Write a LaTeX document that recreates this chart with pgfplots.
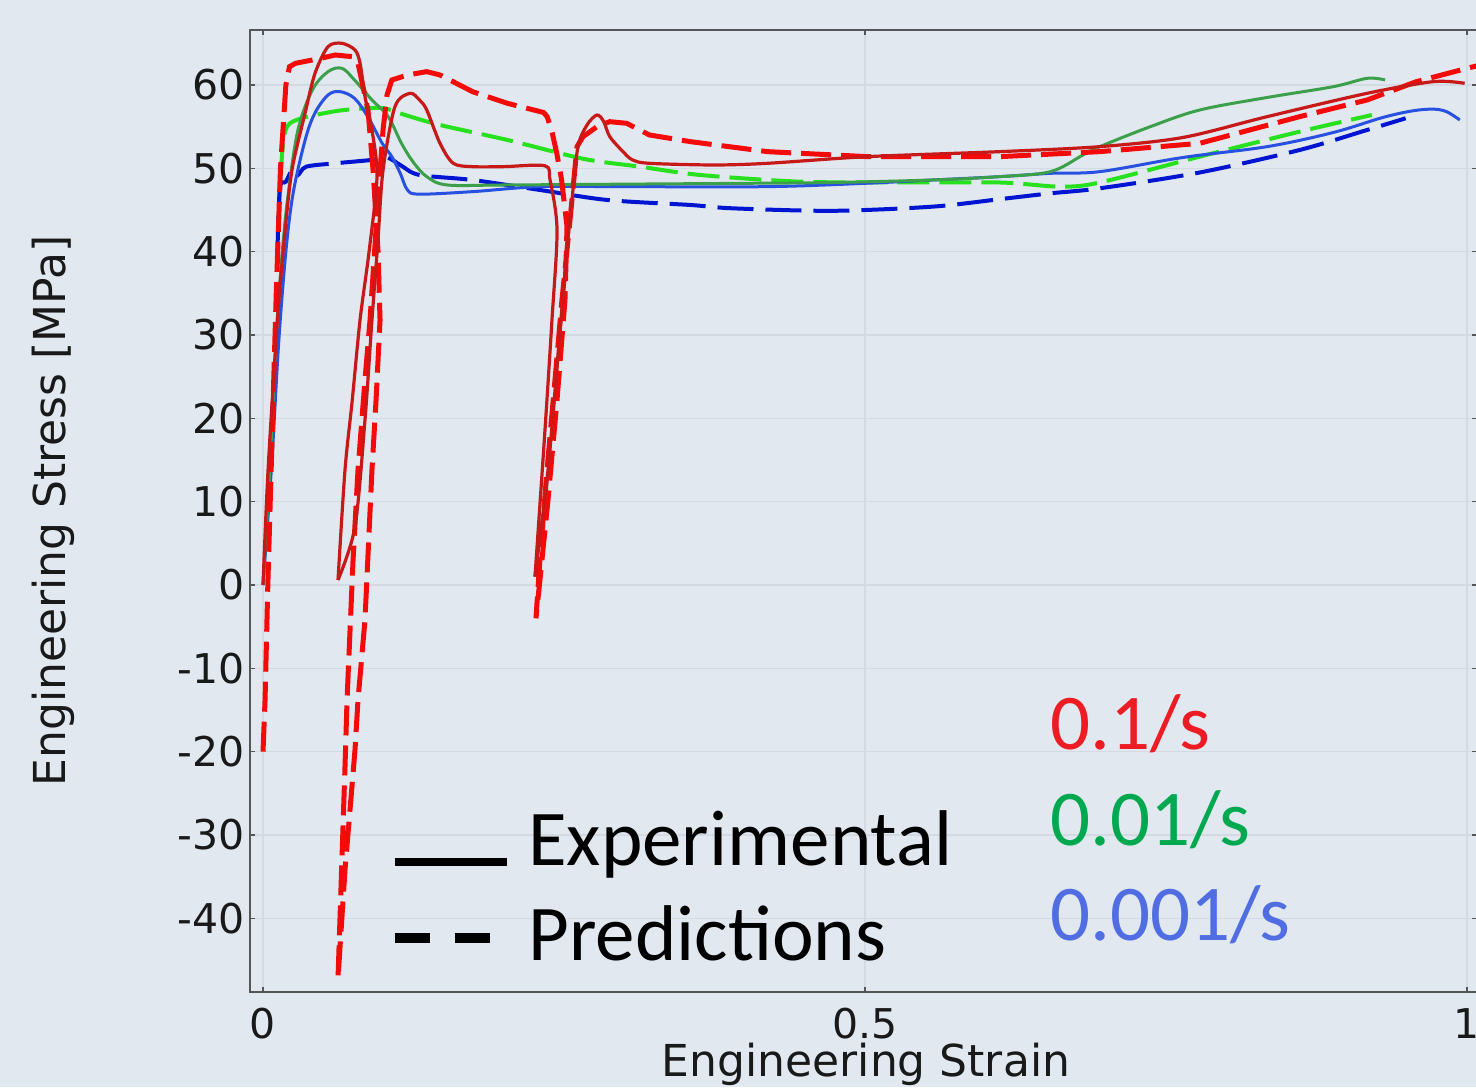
\documentclass[border=0pt]{standalone}
\usepackage{pgfplots}
\pgfplotsset{compat=1.18}
\usepackage{fontspec}
\setmainfont{DejaVu Sans}
\newfontfamily\calfont{Carlito}
\definecolor{bg}{RGB}{225,232,240}
\definecolor{gridc}{RGB}{212,218,226}
\definecolor{axc}{RGB}{85,85,85}
\definecolor{redexp}{RGB}{200,25,25}
\definecolor{redpred}{RGB}{245,10,10}
\definecolor{greenexp}{RGB}{60,160,75}
\definecolor{greenpred}{RGB}{40,225,30}
\definecolor{blueexp}{RGB}{40,80,225}
\definecolor{bluepred}{RGB}{0,20,210}
\definecolor{txtred}{RGB}{237,28,36}
\definecolor{txtgreen}{RGB}{0,168,80}
\definecolor{txtblue}{RGB}{80,110,225}
\begin{document}
\begin{tikzpicture}
\fill[bg] (0,0) rectangle (738pt,543.5pt);
\useasboundingbox (0,0) rectangle (738pt,543.5pt);
\begin{axis}[
  at={(125pt,47.5pt)}, anchor=south west,
  scale only axis, width=613.5pt, height=481pt,
  xmin=-0.0108, xmax=1.0083, ymin=-48.84, ymax=66.6,
  xtick={0,0.5,1}, xticklabels={0,0.5,1},
  ytick={-40,-30,-20,-10,0,10,20,30,40,50,60},
  yticklabels={-40,-30,-20,-10,0,10,20,30,40,50,60},
  tick align=inside, major tick length=2.5pt,
  every tick/.style={axc, line width=0.8pt},
  axis line style={axc, line width=1pt},
  grid=major, grid style={gridc, line width=0.7pt},
  axis background/.style={fill=bg},
  tick label style={font=\fontsize{20.5}{24}\selectfont, text=black!90},
  yticklabel style={inner sep=2.5pt},
  xticklabel style={inner sep=1pt, yshift=-7pt},
  label style={font=\fontsize{22}{26}\selectfont, text=black!90},
  xlabel={Engineering Strain},
  ylabel={Engineering Stress [MPa]},
  xlabel style={at={(axis description cs:0.502,0)}, anchor=north, inner sep=0pt, yshift=-25.5pt},
  ylabel style={at={(axis description cs:-0.15,0.5)}, anchor=base, inner sep=0pt},
]
% green predictions
\addplot[greenpred, line width=2pt, dash pattern=on 16pt off 5pt, smooth, tension=0.5] coordinates {
(0.013,44) (0.016,52) (0.02,55) (0.032,56) (0.062,56.9) (0.087,57.2) (0.101,57.2) (0.118,56.4) (0.147,55.2) (0.203,53.4) (0.258,51.4) (0.28,50.8) (0.313,50.2) (0.363,49.2) (0.446,48.4) (0.529,48.3) (0.612,48.3) (0.662,47.8) (0.695,48.3) (0.778,51.4) (0.861,54.4) (0.921,56.4)};
% blue predictions
\addplot[bluepred, line width=2pt, dash pattern=on 18pt off 6pt, smooth, tension=0.5] coordinates {
(0.012,40) (0.014,47.6) (0.019,48.4) (0.025,50) (0.029,49.2) (0.036,50.2) (0.06,50.6) (0.09,51) (0.103,51.3) (0.115,50.3) (0.13,49.2) (0.174,48.6) (0.23,47.4) (0.286,46.2) (0.355,45.6) (0.39,45.2) (0.473,44.9) (0.556,45.4) (0.612,46.3) (0.654,47) (0.695,47.6) (0.778,49.5) (0.861,52.2) (0.917,54.6) (0.949,56)};
% blue experimental
\addplot[blueexp, line width=1.5pt, smooth, tension=0.55] coordinates {
(0,0) (0.007,14) (0.013,29) (0.019,40) (0.025,47) (0.035,53.4) (0.043,56.6) (0.054,58.8) (0.064,59.2) (0.076,58.4) (0.087,56.2) (0.099,53) (0.107,51.4) (0.114,49.4) (0.12,47.4) (0.13,46.9) (0.174,47.2) (0.23,47.8) (0.3,47.8) (0.419,47.8) (0.5,48.2) (0.556,48.6) (0.612,49.0) (0.654,49.4) (0.695,49.6) (0.764,51.3) (0.834,52.6) (0.889,54.3) (0.93,56.1) (0.955,56.9) (0.972,57.1) (0.983,56.8) (0.994,55.8)};
% green experimental
\addplot[greenexp, line width=1.5pt, smooth, tension=0.55] coordinates {
(0,0) (0.006,15) (0.011,30) (0.016,40) (0.021,47) (0.029,54.6) (0.041,59.4) (0.054,61.6) (0.0656,62) (0.076,60.6) (0.0905,58.2) (0.104,56.2) (0.115,53) (0.125,50.7) (0.136,49) (0.153,48) (0.2,48) (0.3,48.1) (0.4,48.2) (0.473,48.3) (0.556,48.6) (0.612,49) (0.654,49.6) (0.681,51.6) (0.695,52.6) (0.737,55) (0.778,57) (0.834,58.5) (0.889,59.8) (0.917,60.8) (0.932,60.6)};
% red predictions
\addplot[redpred, line width=2.5pt, dash pattern=on 15pt off 5pt] coordinates {
(0,-20) (0.0017,-13.8) (0.004,0) (0.008,20) (0.011,35) (0.0145,50) (0.019,60) (0.022,62.2) (0.027,62.6) (0.048,63.2) (0.06,63.6) (0.074,63.4) (0.0789,62.6) (0.0872,57) (0.0914,49.8) (0.0955,40.2) (0.0972,31.8) (0.0939,22.2) (0.0905,13.8) (0.0847,-4.2) (0.0789,-13.8) (0.0764,-19.8) (0.0681,-34.2) (0.0623,-47.2) (0.0681,-21.8) (0.0698,-13.8) (0.0748,3.0) (0.0789,13.8) (0.0847,24.6) (0.0889,31.8) (0.0955,46.2) (0.0997,54.6) (0.103,58.8) (0.107,60.6) (0.12,61.2) (0.136,61.6) (0.147,61.2) (0.174,59.2) (0.203,57.8) (0.233,56.7) (0.236,56.2) (0.24,54.4) (0.244,51.8) (0.248,48.6) (0.2525,43) (0.2508,34.2) (0.2442,22.2) (0.2367,10.2) (0.23,0.6) (0.2267,-4) (0.23,3) (0.2359,13.8) (0.2425,24.6) (0.2483,34.2) (0.255,43.8) (0.2608,52.6) (0.2658,53.8) (0.2774,55) (0.288,55.6) (0.302,55.4) (0.321,54) (0.355,53.2) (0.419,52) (0.502,51.4) (0.612,51.4) (0.695,52) (0.778,53) (0.861,56.2) (0.917,58.2) (0.958,60.4) (1.0,62) (1.0083,62.3)};
% red experimental (three segments: loading/unloading cycles)
\addplot[redexp, line width=1.6pt, smooth, tension=0.5] coordinates {
(0,0) (0.0042,13.8) (0.012,31.8) (0.018,42) (0.0241,49.8) (0.0349,56.6) (0.0432,61.4) (0.054,64.6) (0.0656,65.0) (0.0764,64.2) (0.0806,62.6) (0.0847,58.6) (0.0905,54.6) (0.0947,49.0) (0.0881,40) (0.0806,31.8) (0.0740,22) (0.0681,13.8) (0.0623,0.6)};
\addplot[redexp, line width=1.6pt, smooth, tension=0.5] coordinates {
(0.0623,0.6) (0.0764,7.0) (0.0847,19.8) (0.0905,31.8) (0.0955,41.4) (0.0997,49.8) (0.1096,57.4) (0.1221,59.0) (0.130,58.2) (0.136,57) (0.147,53) (0.158,50.6) (0.174,50.2) (0.2,50.2) (0.2342,50.3) (0.2384,48.6) (0.2442,42.6) (0.240,31.8) (0.2342,18.6) (0.2259,1.0)};
\addplot[redexp, line width=1.6pt, smooth, tension=0.5] coordinates {
(0.2259,1.0) (0.2367,13.8) (0.2467,30.6) (0.2525,40.2) (0.2566,46.2) (0.2616,52.6) (0.2691,55.2) (0.2774,56.4) (0.283,55.6) (0.288,53.8) (0.299,52) (0.307,51) (0.321,50.6) (0.374,50.4) (0.419,50.6) (0.502,51.4) (0.612,52) (0.695,52.6) (0.764,53.7) (0.834,56.2) (0.917,59) (0.972,60.4) (0.998,60.2)};
% legend keys and labels
\draw[black, line width=4pt] (axis cs:0.1096,-33.24) -- (axis cs:0.2027,-33.24);
\draw[black, line width=5pt, dash pattern=on 17.5pt off 12.5pt] (axis cs:0.1096,-42.36) -- (axis cs:0.1885,-42.36);
\node[anchor=base west, inner sep=0pt, font=\calfont\fontsize{39.5}{47}\selectfont] at (axis cs:0.2201,-33.6) {Experimental};
\node[anchor=base west, inner sep=0pt, font=\calfont\fontsize{39.5}{47}\selectfont] at (axis cs:0.2201,-45.0) {Predictions};
\node[anchor=base west, inner sep=0pt, text=txtred, font=\calfont\fontsize{39.5}{47}\selectfont] at (axis cs:0.6537,-19.8) {0.1/s};
\node[anchor=base west, inner sep=0pt, text=txtgreen, font=\calfont\fontsize{39.5}{47}\selectfont] at (axis cs:0.6537,-31.2) {0.01/s};
\node[anchor=base west, inner sep=0pt, text=txtblue, font=\calfont\fontsize{39.5}{47}\selectfont] at (axis cs:0.6537,-42.6) {0.001/s};
\end{axis}
\end{tikzpicture}
\end{document}
